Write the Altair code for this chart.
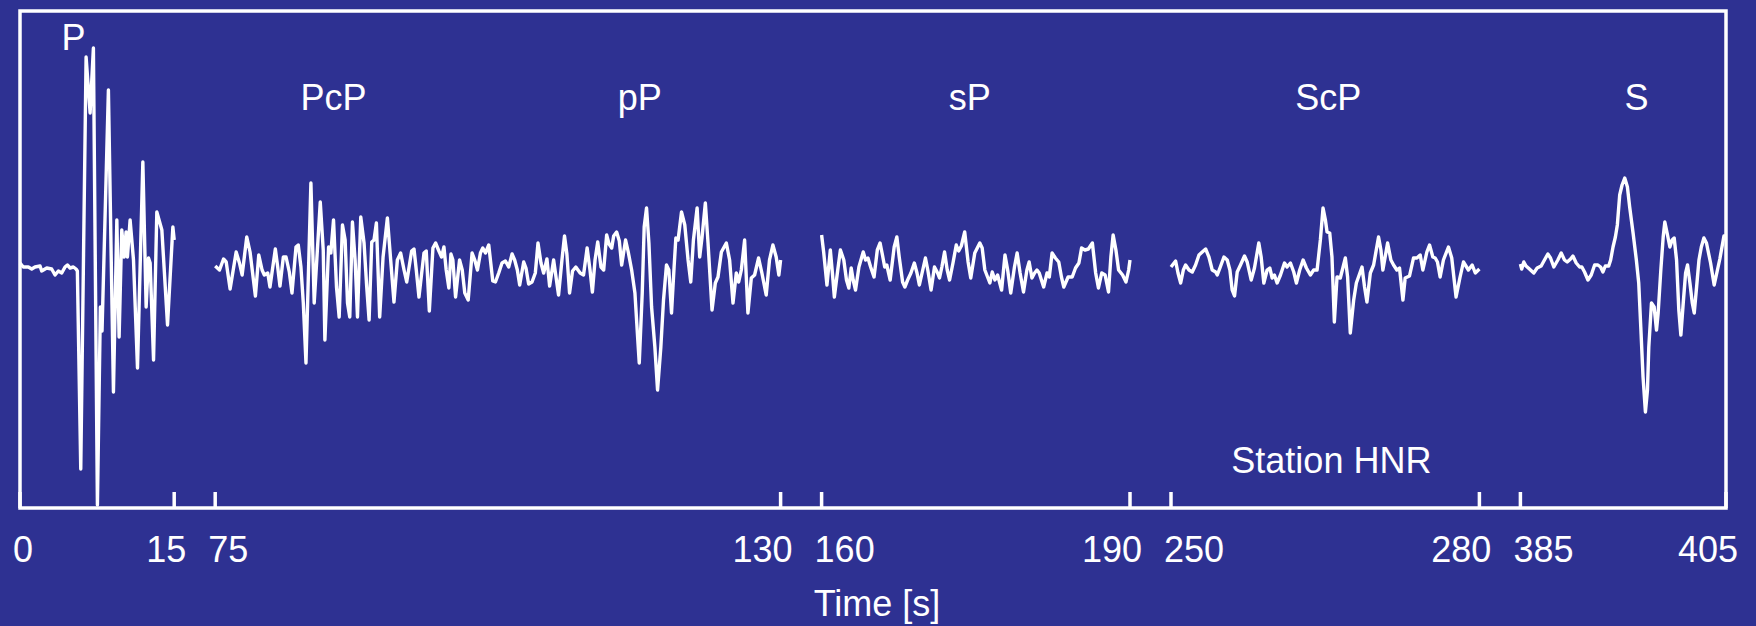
import altair as alt
import pandas as pd

BG = "#2E3192"
FONT = "Liberation Sans"

# Time windows shown (seconds); each is drawn as its own trace piece
windows = [(0, 15), (75, 130), (160, 190), (250, 280), (385, 405)]

# Trace samples: (time [s], amplitude [arbitrary units])
trace_p = [
    (0, 6), (0.32, 2), (0.81, 2), (1.14, 0), (1.46, 2), (1.95, 3), (2.11, -2), (2.6, 1),
    (3.08, 0), (3.41, -6), (3.73, -2), (4.06, -4), (4.38, 2), (4.61, 4), (4.87, 1), (5.19, 2),
    (5.45, 0), (5.58, -2), (5.91, -200), (6.43, 212), (6.82, 156), (7.14, 221), (7.53, -236),
    (7.82, -38), (7.98, -62), (8.6, 179), (9.09, -123), (9.42, 49), (9.64, -68), (9.9, 39),
    (10.13, 12), (10.32, 37), (10.45, 12), (10.71, 49), (11.04, 9), (11.43, -99), (11.95, 107),
    (12.27, -38), (12.5, 11), (12.66, 6), (12.99, -91), (13.31, 57), (13.8, 39), (14.35, -56),
    (14.87, 42), (15.0, 29),
]

trace_pcp_pp = [
    (75.0, 3), (75.42, -1), (75.81, 10), (76.07, 7), (76.45, -20), (77.04, 17), (77.36, 6),
    (77.62, -6), (78.07, 32), (78.39, 17), (78.91, -27), (79.24, 14), (79.56, -1), (79.78, -6),
    (80.11, -4), (80.33, -18), (80.85, 20), (81.08, 2), (81.30, -17), (81.63, 12), (81.89, 12),
    (82.21, -3), (82.47, -24), (82.86, 22), (83.08, 24), (83.34, 2), (83.57, -34), (83.83, -94),
    (84.31, 86), (84.63, -34), (85.22, 67), (85.51, 19), (85.67, -71), (86.03, 22), (86.25, 16),
    (86.51, 49), (86.80, -18), (87.06, -48), (87.38, 44), (87.64, 29), (87.87, -34), (88.09, -48),
    (88.35, 47), (88.61, 9), (88.84, -48), (89.16, 52), (89.48, 26), (89.74, -18), (89.97, -51),
    (90.23, 27), (90.45, 29), (90.68, 46), (91.00, -48), (91.33, 12), (91.75, 51), (92.07, 9),
    (92.39, -33), (92.72, 9), (93.04, 16), (93.37, -1), (93.63, -13), (94.11, 18), (94.34, 20),
    (94.56, -1), (94.82, -28), (95.31, 16), (95.53, 18), (95.83, -42), (96.18, 21), (96.44, 26),
    (96.76, 18), (97.02, 12), (97.25, 22), (97.47, -1), (97.73, -19), (97.93, 15), (98.12, 9),
    (98.38, -28), (98.77, 9), (99.03, -1), (99.28, -24), (99.61, -31), (99.99, 16), (100.25, 9),
    (100.51, -1), (100.8, 16), (101.03, 21), (101.29, 16), (101.61, 24), (102.0, -12),
    (102.26, -13), (102.58, -4), (102.9, 6), (103.23, 8), (103.55, 2), (103.88, 15), (104.13, 9),
    (104.39, -1), (104.62, -16), (105.01, 7), (105.23, 1), (105.49, -15), (105.82, -13),
    (106.14, -4), (106.4, 26), (106.69, 6), (106.95, -4), (107.27, 10), (107.53, -17),
    (107.92, 9), (108.4, -26), (108.73, 9), (108.98, 33), (109.21, 15), (109.47, -24),
    (109.76, -2), (110.08, 2), (110.5, -4), (110.83, -6), (111.18, 21), (111.46, -1),
    (111.69, -23), (111.95, 9), (112.21, 27), (112.53, 2), (112.79, -1), (113.08, 34),
    (113.31, 25), (113.57, 21), (113.76, 33), (114.05, 37), (114.31, 28), (114.54, 4),
    (114.92, 29), (115.18, 17), (115.51, -1), (115.83, -24), (116.09, -68), (116.25, -94),
    (116.54, -24), (116.73, 42), (116.96, 61), (117.19, 26), (117.45, -38), (117.77, -78),
    (118.03, -121), (118.35, -78), (118.61, -31), (118.9, 4), (119.13, -1), (119.39, -44),
    (119.64, 2), (119.81, 31), (120.03, 29), (120.36, 57), (120.68, 44), (121.0, 9),
    (121.26, -13), (121.52, 29), (121.88, 61), (122.13, 12), (122.36, 32), (122.68, 66),
    (122.94, 26), (123.33, -41), (123.65, -14), (123.91, -8), (124.24, 17), (124.72, 26),
    (125.04, 9), (125.37, -34), (125.69, -4), (125.92, -13), (126.18, -1), (126.5, 29),
    (126.82, -44), (127.15, -9), (127.47, -6), (127.86, 11), (128.18, -4), (128.6, -26),
    (128.92, 9), (129.25, 24), (129.57, 12), (129.83, -6), (130.0, 9),
]

trace_sp = [
    (160.0, 34), (160.2, 17), (160.52, -16), (160.85, 19), (161.05, -4), (161.24, -28),
    (161.57, -1), (161.83, 19), (162.16, 9), (162.42, -11), (162.65, -19), (162.88, 1),
    (163.07, -11), (163.3, -21), (163.63, 2), (164.05, 17), (164.28, 9), (164.51, 11),
    (164.77, 2), (165.1, -8), (165.42, 19), (165.69, 26), (165.92, 14), (166.14, 2),
    (166.34, 4), (166.67, -11), (167.06, 22), (167.32, 32), (167.55, 12), (167.88, -13),
    (168.1, -18), (168.37, -11), (168.69, -4), (169.02, 6), (169.28, -4), (169.51, -16),
    (169.84, -1), (170.1, 11), (170.33, -1), (170.65, -21), (170.98, 2), (171.24, -3),
    (171.47, -9), (171.7, 2), (171.96, 17), (172.22, -1), (172.45, -11), (172.78, 6),
    (173.1, 24), (173.33, 18), (173.59, 23), (173.92, 37), (174.25, 7), (174.51, -9),
    (174.9, 16), (175.39, 26), (175.62, 21), (175.88, -1), (176.37, -14), (176.6, -3),
    (176.86, -11), (177.12, -6), (177.51, -21), (177.84, 14), (178.1, -1), (178.4, -24),
    (178.76, 2), (179.02, 16), (179.31, -4), (179.64, -23), (179.97, -1), (180.19, 7),
    (180.46, -9), (180.72, -4), (180.95, -1), (181.17, -4), (181.6, -18), (181.93, -4),
    (182.15, -8), (182.42, 16), (182.74, 11), (183.07, 7), (183.33, -8), (183.56, -18),
    (183.98, -8), (184.38, -8), (184.7, 1), (185.03, 6), (185.29, 21), (185.62, 19),
    (185.95, 20), (186.34, 26), (186.66, -4), (186.93, -19), (187.25, -4), (187.58, -6),
    (187.91, -23), (188.14, 12), (188.36, 34), (188.63, 19), (188.89, -1), (189.28, -6),
    (189.61, -13), (189.87, -1), (190.0, 9),
]

trace_scp = [
    (250.0, 2), (250.45, 8), (250.68, -4), (250.94, -14), (251.2, -1), (251.42, 4),
    (251.75, -1), (252.07, -3), (252.39, 4), (252.72, 14), (253.04, 17), (253.37, 20),
    (253.69, 12), (254.01, -1), (254.34, -3), (254.5, -6), (254.76, 1), (255.15, 12),
    (255.47, 9), (255.73, -1), (255.95, -21), (256.18, -27), (256.44, -3), (256.76, 4),
    (257.15, 13), (257.41, 7), (257.8, -11), (258.12, 1), (258.54, 26), (258.77, 12),
    (259.03, -14), (259.35, -1), (259.61, 1), (259.84, -9), (260.06, -6), (260.32, -14),
    (260.65, -6), (261.04, 6), (261.29, 2), (261.62, 6), (261.94, -3), (262.2, -14),
    (262.52, -1), (262.85, 9), (263.17, 1), (263.56, -6), (263.88, -1), (264.21, -1),
    (264.53, 29), (264.79, 61), (265.02, 49), (265.18, 37), (265.44, 36), (265.66, 12),
    (265.89, -53), (266.15, -8), (266.47, -9), (266.96, 11), (267.18, -8), (267.44, -64),
    (267.77, -31), (268.03, -14), (268.58, 2), (268.83, -18), (269.06, -33), (269.39, -4),
    (269.71, 4), (270.19, 32), (270.42, 19), (270.61, -1), (271.07, 26), (271.39, 9),
    (271.65, 4), (271.97, -1), (272.23, 1), (272.56, -31), (272.78, -9), (273.2, -7),
    (273.59, 11), (273.92, 11), (274.24, 14), (274.5, -1), (274.89, 17), (275.15, 24),
    (275.47, 12), (275.7, 11), (275.92, 7), (276.18, -8), (276.5, 9), (276.99, 22),
    (277.31, 11), (277.73, -28), (278.12, -8), (278.45, 7), (278.93, -1), (279.3, 4),
    (279.6, -4), (280.0, 0),
]

trace_s = [
    (385.0, 5), (385.13, 0), (385.33, 7), (385.55, 3), (385.88, 0), (386.3, -4), (386.63, 1),
    (387.02, 3), (387.34, 9), (387.67, 15), (387.93, 11), (388.25, 2), (388.64, 9),
    (388.97, 16), (389.29, 9), (389.55, 7), (389.88, 10), (390.11, 13), (390.43, 6),
    (390.76, 2), (390.98, 2), (391.24, -3), (391.57, -11), (391.89, -6), (392.22, 4),
    (392.54, 4), (392.8, 2), (393.03, -3), (393.26, 3), (393.59, 3), (393.78, 9), (394.01, 22),
    (394.24, 32), (394.43, 44), (394.66, 74), (394.89, 84), (395.15, 91), (395.41, 82),
    (395.63, 62), (395.96, 36), (396.28, 9), (396.51, -14), (396.71, -58), (396.93, -108),
    (397.16, -143), (397.36, -121), (397.49, -78), (397.75, -34), (398.01, -38), (398.24, -61),
    (398.4, -44), (398.66, -1), (398.89, 32), (399.05, 47), (399.31, 34), (399.54, 22),
    (399.76, 29), (399.96, 31), (400.19, 9), (400.41, -41), (400.61, -66), (400.84, -34),
    (401.07, -4), (401.26, 4), (401.49, -14), (401.72, -34), (401.91, -44), (402.14, -18),
    (402.37, 9), (402.6, 22), (402.85, 31), (403.1, 26), (403.5, 6), (403.85, -16),
    (404.4, 10), (404.8, 33), (405.0, 33),
]

phase_names = ["P", "PcP", "pP", "sP", "ScP", "S"]
phase_times = [5.2, 86.5, 116.3, 174.4, 265.3, 396.3]
phase_amps = [219, 159, 159, 159, 159, 159]

station_label = "Station HNR"
station_time = 265.6
station_amp = -204

x_title = "Time [s]"
amp_domain = [-239, 258]

# ---------------- build tables ----------------
rows = []
for i, tr in enumerate([trace_p, trace_pcp_pp, trace_sp, trace_scp, trace_s]):
    for t, a in tr:
        rows.append({"seg": i, "t": t, "a": a})
trace_df = pd.DataFrame(rows)

phase_df = pd.DataFrame({"name": phase_names + [station_label],
                         "t": phase_times + [station_time],
                         "a": phase_amps + [station_amp]})

starts = [w[0] for w in windows]
ends = [w[1] for w in windows]
ticks_df = pd.DataFrame({"t": sorted(set(starts + ends))})
start_df = pd.DataFrame({"t": starts, "lab": [str(v) for v in starts]})
end_df = pd.DataFrame({"t": ends, "lab": [str(v) for v in ends]})

# ---------------- broken time axis (piecewise linear scale) ----------------
W, H = 1706, 497
GAP = 41
total_s = sum(e - s for s, e in windows)
pps = (W - GAP * (len(windows) - 1)) / total_s
dom, rng = [], []
pos = 0.0
for k, (s, e) in enumerate(windows):
    if k > 0:
        pos += GAP
    dom += [s, e]
    rng += [round(pos, 2), round(pos + (e - s) * pps, 2)]
    pos += (e - s) * pps

xscale = alt.Scale(domain=dom, range=rng, zero=False, nice=False, clamp=False)
yscale = alt.Scale(domain=amp_domain, zero=False, nice=False)

lines = alt.Chart(trace_df).mark_line(
    color="white", strokeWidth=3.4, strokeJoin="round"
).encode(
    x=alt.X("t:Q", scale=xscale, axis=None),
    y=alt.Y("a:Q", scale=yscale, axis=None),
    detail="seg:N",
    order="t:Q",
)

tick_rules = alt.Chart(ticks_df).mark_rule(color="white", strokeWidth=3.5).encode(
    x=alt.X("t:Q", axis=None),
    y=alt.value(H),
    y2=alt.value(H - 16),
)

phase_text = alt.Chart(phase_df).mark_text(
    color="white", font=FONT, fontSize=36, align="center", baseline="alphabetic"
).encode(
    x=alt.X("t:Q", axis=None),
    y=alt.Y("a:Q", axis=None),
    text="name:N",
)

lab_y = 551
start_text = alt.Chart(start_df).mark_text(
    color="white", font=FONT, fontSize=36, align="left", baseline="alphabetic", dx=-7
).encode(x=alt.X("t:Q", axis=None), y=alt.value(lab_y), text="lab:N")

end_text = alt.Chart(end_df).mark_text(
    color="white", font=FONT, fontSize=36, align="right", baseline="alphabetic", dx=12
).encode(x=alt.X("t:Q", axis=None), y=alt.value(lab_y), text="lab:N")

title_text = alt.Chart(alt.Data(values=[{"lab": x_title}])).mark_text(
    color="white", font=FONT, fontSize=36, align="center", baseline="alphabetic"
).encode(x=alt.value(857), y=alt.value(605), text="lab:N")

chart = alt.layer(
    lines, tick_rules, phase_text, start_text, end_text, title_text
).properties(
    width=W, height=H,
    autosize=alt.AutoSizeParams(type="none"),
    padding={"left": 20, "top": 11, "right": 30, "bottom": 118},
    background=BG,
).configure_view(
    stroke="white", strokeWidth=3.5
)

chart.save("out.html", embed_options={"renderer": "svg", "actions": False})
